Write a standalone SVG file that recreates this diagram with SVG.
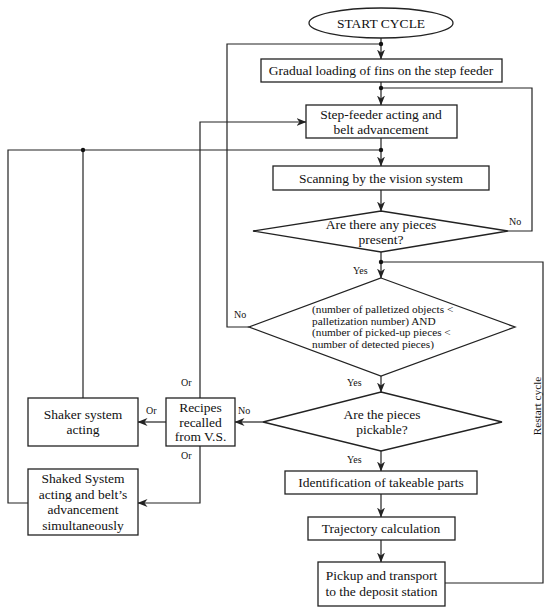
<svg xmlns="http://www.w3.org/2000/svg" width="550" height="611" viewBox="0 0 550 611">
<style>
.box{fill:#fff;stroke:#222;stroke-width:1.3}
.ln{fill:none;stroke:#222;stroke-width:1.2}
.arr{marker-end:url(#ah)}
.t{font-family:"Liberation Serif","DejaVu Serif","Times New Roman",serif;font-size:13.5px;fill:#111;text-anchor:middle}
.s{font-family:"Liberation Serif","DejaVu Serif","Times New Roman",serif;font-size:10px;fill:#111}
.c{font-family:"Liberation Serif","DejaVu Serif","Times New Roman",serif;font-size:11.3px;fill:#111}
</style>
<defs>
<marker id="ah" markerWidth="10" markerHeight="10" viewBox="0 0 10 10" refX="9.5" refY="5" orient="auto" markerUnits="userSpaceOnUse">
<path d="M0,1 L10,5 L0,9 L3,5 z" fill="#222"/>
</marker>
</defs>
<g id="connectors">
<path class="ln arr" d="M381,38 V59"/>
<path class="ln" d="M249,327 H227 V44 H381"/>
<path class="ln arr" d="M381,82 V105"/>
<path class="ln" d="M508,231 H532 V88 H381"/>
<path class="ln arr" d="M381,138 V166"/>
<path class="ln" d="M28,503 H8 V150 H381"/>
<path class="ln" d="M83,398 V150"/>
<path class="ln arr" d="M381,190 V211"/>
<path class="ln arr" d="M381,252 V278"/>
<path class="ln" d="M445,583 H543 V262 H381"/>
<path class="ln arr" d="M381,376 V392"/>
<path class="ln arr" d="M263,422 H235"/>
<path class="ln arr" d="M166,422 H138"/>
<path class="ln arr" d="M200,398 V122 H306"/>
<path class="ln arr" d="M200,446 V503 H138"/>
<path class="ln arr" d="M381,451 V471"/>
<path class="ln arr" d="M381,494 V517"/>
<path class="ln arr" d="M381,540 V562"/>
<circle cx="381" cy="44" r="2.2" fill="#111"/>
<circle cx="381" cy="88" r="2.2" fill="#111"/>
<circle cx="381" cy="150" r="2.2" fill="#111"/>
<circle cx="83" cy="150" r="2.2" fill="#111"/>
<circle cx="381" cy="262" r="2.2" fill="#111"/>
<text class="s" x="509" y="225">No</text>
<text class="s" x="353" y="274">Yes</text>
<text class="s" x="234" y="318">No</text>
<text class="s" x="347" y="386">Yes</text>
<text class="s" x="238" y="414">No</text>
<text class="s" x="146" y="414">Or</text>
<text class="s" x="181" y="386">Or</text>
<text class="s" x="181" y="459">Or</text>
<text class="s" x="347" y="463">Yes</text>
<text class="c" x="537" y="406" text-anchor="middle" transform="rotate(-90 537 406)" dy="3.5">Restart cycle</text>
</g>
<g id="start">
<ellipse class="box" cx="381" cy="23" rx="72" ry="15"/>
<text class="t" x="381" y="27.5">START CYCLE</text>
</g>
<g id="gradual">
<rect class="box" x="261" y="59" width="241" height="23"/>
<text class="t" x="381" y="75">Gradual loading of fins on the step feeder</text>
</g>
<g id="stepfeeder">
<rect class="box" x="306" y="105" width="151" height="33"/>
<text class="t" x="381" y="119">Step-feeder acting and</text>
<text class="t" x="381" y="134">belt advancement</text>
</g>
<g id="scanning">
<rect class="box" x="273" y="166" width="216" height="24"/>
<text class="t" x="381" y="182.5">Scanning by the vision system</text>
</g>
<g id="present">
<path class="box" d="M381,211 L508,231 L381,252 L253,231 Z"/>
<text class="t" x="381" y="229">Are there any pieces</text>
<text class="t" x="381" y="244">present?</text>
</g>
<g id="condition">
<path class="box" d="M381,278 L515,327 L381,376 L249,327 Z"/>
<text class="c" x="312" y="313">(number of palletized objects &lt;</text>
<text class="c" x="312" y="324.5">palletization number) AND</text>
<text class="c" x="312" y="336">(number of picked-up pieces &lt;</text>
<text class="c" x="312" y="347.5">number of detected pieces)</text>
</g>
<g id="pickable">
<path class="box" d="M381,392 L502,422 L381,451 L263,422 Z"/>
<text class="t" x="382" y="419">Are the pieces</text>
<text class="t" x="382" y="434">pickable?</text>
</g>
<g id="recipes">
<rect class="box" x="166" y="398" width="69" height="48"/>
<text class="t" x="200.5" y="412">Recipes</text>
<text class="t" x="200.5" y="426.5">recalled</text>
<text class="t" x="200.5" y="441">from V.S.</text>
</g>
<g id="shaker">
<rect class="box" x="28" y="398" width="110" height="48"/>
<text class="t" x="83" y="419">Shaker system</text>
<text class="t" x="83" y="434">acting</text>
</g>
<g id="shaked">
<rect class="box" x="28" y="469" width="110" height="66"/>
<text class="t" x="83" y="483">Shaked System</text>
<text class="t" x="83" y="498.5">acting and belt’s</text>
<text class="t" x="83" y="514">advancement</text>
<text class="t" x="83" y="529.5">simultaneously</text>
</g>
<g id="identification">
<rect class="box" x="285" y="471" width="192" height="23"/>
<text class="t" x="381" y="487">Identification of takeable parts</text>
</g>
<g id="trajectory">
<rect class="box" x="308" y="517" width="147" height="23"/>
<text class="t" x="381" y="533">Trajectory calculation</text>
</g>
<g id="pickup">
<rect class="box" x="318" y="562" width="127" height="44"/>
<text class="t" x="381.5" y="580">Pickup and transport</text>
<text class="t" x="381.5" y="596">to the deposit station</text>
</g>
</svg>
